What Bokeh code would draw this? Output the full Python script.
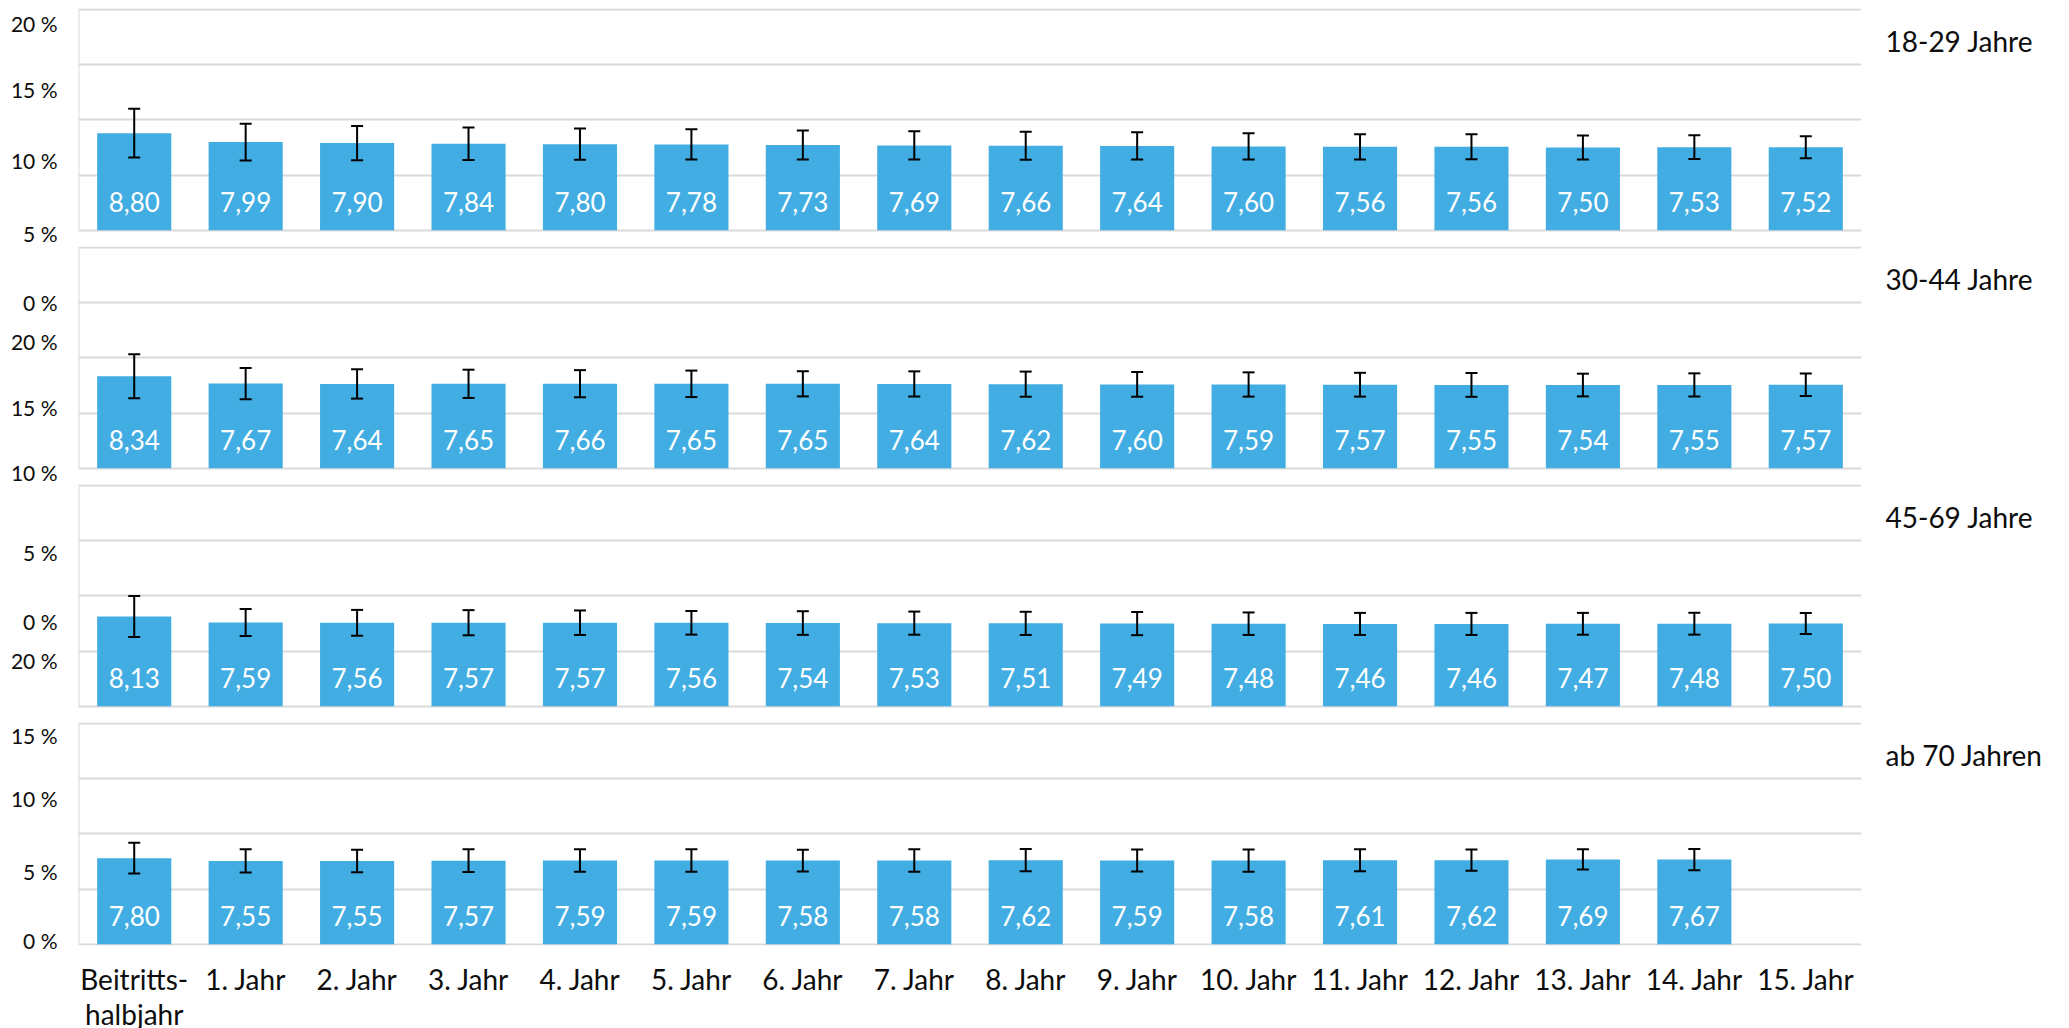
from bokeh.plotting import figure
from bokeh.layouts import column
from bokeh.models import (ColumnDataSource, FactorRange, Range1d, FixedTicker,
                          CustomJSTickFormatter, LinearAxis, Whisker, TeeHead)
from bokeh.core.properties import value
from bokeh.embed import file_html
from bokeh.resources import INLINE

# ---------------- data ----------------
categories = ["Beitritts-\nhalbjahr", "1. Jahr", "2. Jahr", "3. Jahr", "4. Jahr", "5. Jahr",
              "6. Jahr", "7. Jahr", "8. Jahr", "9. Jahr", "10. Jahr", "11. Jahr",
              "12. Jahr", "13. Jahr", "14. Jahr", "15. Jahr"]

groups = ["18-29 Jahre", "30-44 Jahre", "45-69 Jahre", "ab 70 Jahren"]

vals_18_29 = [8.80, 7.99, 7.90, 7.84, 7.80, 7.78, 7.73, 7.69, 7.66, 7.64, 7.60, 7.56, 7.56, 7.50, 7.53, 7.52]
err_18_29 = [2.20, 1.67, 1.55, 1.47, 1.41, 1.37, 1.32, 1.28, 1.27, 1.23, 1.18, 1.15, 1.13, 1.08, 1.07, 0.99]

vals_30_44 = [8.34, 7.67, 7.64, 7.65, 7.66, 7.65, 7.65, 7.64, 7.62, 7.60, 7.59, 7.57, 7.55, 7.54, 7.55, 7.57]
err_30_44 = [2.00, 1.42, 1.33, 1.28, 1.23, 1.20, 1.14, 1.14, 1.14, 1.12, 1.10, 1.08, 1.08, 1.03, 1.05, 1.02]

vals_45_69 = [8.13, 7.59, 7.56, 7.57, 7.57, 7.56, 7.54, 7.53, 7.51, 7.49, 7.48, 7.46, 7.46, 7.47, 7.48, 7.50]
err_45_69 = [1.85, 1.23, 1.17, 1.14, 1.11, 1.07, 1.07, 1.05, 1.05, 1.05, 1.02, 1.00, 1.00, 0.99, 0.99, 0.95]

vals_70 = [7.80, 7.55, 7.55, 7.57, 7.59, 7.59, 7.58, 7.58, 7.62, 7.59, 7.58, 7.61, 7.62, 7.69, 7.67]
err_70 = [1.40, 1.06, 1.02, 1.03, 1.02, 1.02, 0.99, 1.02, 1.00, 0.99, 1.00, 1.00, 0.96, 0.92, 0.96]

grid_values = [0, 5, 10, 15, 20]
y_tick_texts = ["20 %", "15 %", "10 %", "5 %", "0 %"] * 3

# ---------------- layout constants ----------------
FONT = "Lato"
BAR_COLOR = "#41ADE2"
GRID_COLOR = "#D9D9D9"
TEXT_COLOR = "#0d0d0d"
PX = 11.03             # pixels per percent point
PITCH = 238            # vertical pixel pitch of the panels
Y_TOP = 20.1
FRAME_W = 1783
LEFT_B = 78
RIGHT_B = 190
TOP_MARGIN = 8
# vertical pixel centres (relative to the top of the first panel) of the y-axis labels
y_tick_px = [15, 81, 152, 225, 294,
             333, 399, 471, 543.7, 612.9,
             652, 718.4, 790, 862.8, 931.6]
RIGHT_LABEL_OFFSET_PX = 31

series = [(vals_18_29, err_18_29), (vals_30_44, err_30_44),
          (vals_45_69, err_45_69), (vals_70, err_70)]

figs = []
for k, (vals, errs) in enumerate(series):
    last = (k == len(series) - 1)
    frame_h = 223 if last else PITCH
    top_px = PITCH * k
    y_start = Y_TOP - frame_h / PX
    p = figure(x_range=FactorRange(factors=categories, range_padding=0),
               y_range=Range1d(y_start, Y_TOP),
               frame_width=FRAME_W, frame_height=frame_h,
               min_border_left=LEFT_B, min_border_right=RIGHT_B,
               min_border_top=TOP_MARGIN if k == 0 else 0, min_border_bottom=0,
               x_axis_location="below" if last else None,
               output_backend="svg", toolbar_location=None,
               background_fill_color="white", border_fill_color="white")
    p.outline_line_color = None

    # grid
    p.xgrid.visible = False
    p.ygrid.ticker = FixedTicker(ticks=grid_values)
    p.ygrid.grid_line_color = GRID_COLOR
    p.ygrid.grid_line_width = 2

    # left border of the panel
    p.segment(x0=[0], y0=[grid_values[0]], x1=[0], y1=[grid_values[-1]],
              line_color=GRID_COLOR, line_width=2)

    n = len(vals)
    src = ColumnDataSource(dict(
        x=categories[:n],
        v=vals,
        upper=[a + b for a, b in zip(vals, errs)],
        lower=[a - b for a, b in zip(vals, errs)],
        label=[f"{a:.2f}".replace(".", ",") for a in vals],
        base=[0] * n,
    ))
    p.vbar(x="x", top="v", bottom=0, width=0.665, source=src,
           fill_color=BAR_COLOR, line_color=None)
    p.text(x="x", y="base", text="label", source=src, y_offset=-28,
           text_align="center", text_baseline="middle", text_color="white",
           text_font=value(FONT), text_font_size="26px")
    p.add_layout(Whisker(source=src, base="x", upper="upper", lower="lower",
                         line_color="black", line_width=2, level="overlay",
                         upper_head=TeeHead(size=12, line_width=2, line_color="black"),
                         lower_head=TeeHead(size=12, line_width=2, line_color="black")))

    # left axis: labels located where the reference shows them
    ticks, texts = [], []
    lo_px, hi_px = top_px, top_px + frame_h
    for ypx, t in zip(y_tick_px, y_tick_texts):
        if lo_px <= ypx < hi_px:
            ticks.append(round(Y_TOP - (ypx - top_px) / PX, 4))
            texts.append(t)
    order = sorted(range(len(ticks)), key=lambda i: ticks[i])
    ticks = [ticks[i] for i in order]
    texts = [texts[i] for i in order]
    ya = p.yaxis[0]
    ya.ticker = FixedTicker(ticks=ticks)
    ya.formatter = CustomJSTickFormatter(args=dict(labels=texts), code="return labels[index]")
    ya.axis_line_color = None
    ya.major_tick_line_color = None
    ya.minor_tick_line_color = None
    ya.major_tick_out = 0
    ya.major_tick_in = 0
    ya.major_label_standoff = 21
    ya.major_label_text_font = FONT
    ya.major_label_text_font_size = "21px"
    ya.major_label_text_color = TEXT_COLOR

    # right axis carrying the age-group name
    ra = LinearAxis(ticker=FixedTicker(ticks=[round(grid_values[-1] - RIGHT_LABEL_OFFSET_PX / PX, 4)]),
                    formatter=CustomJSTickFormatter(args=dict(name=groups[k]), code="return name"))
    ra.axis_line_color = None
    ra.major_tick_line_color = None
    ra.minor_tick_line_color = None
    ra.major_tick_out = 0
    ra.major_tick_in = 0
    ra.major_label_standoff = 24
    ra.major_label_text_font = FONT
    ra.major_label_text_font_size = "28px"
    ra.major_label_text_color = TEXT_COLOR
    p.add_layout(ra, "right")

    if last:
        xa = p.xaxis[0]
        xa.axis_line_color = None
        xa.major_tick_line_color = None
        xa.minor_tick_line_color = None
        xa.major_tick_out = 0
        xa.major_tick_in = 0
        xa.major_label_standoff = 16
        xa.major_label_text_font = FONT
        xa.major_label_text_font_size = "28px"
        xa.major_label_text_line_height = 1.05
        xa.major_label_text_color = TEXT_COLOR
        xa.major_label_orientation = "horizontal"
    figs.append(p)

layout = column(*figs, spacing=0)
open("out.html", "w").write(file_html(layout, INLINE))
